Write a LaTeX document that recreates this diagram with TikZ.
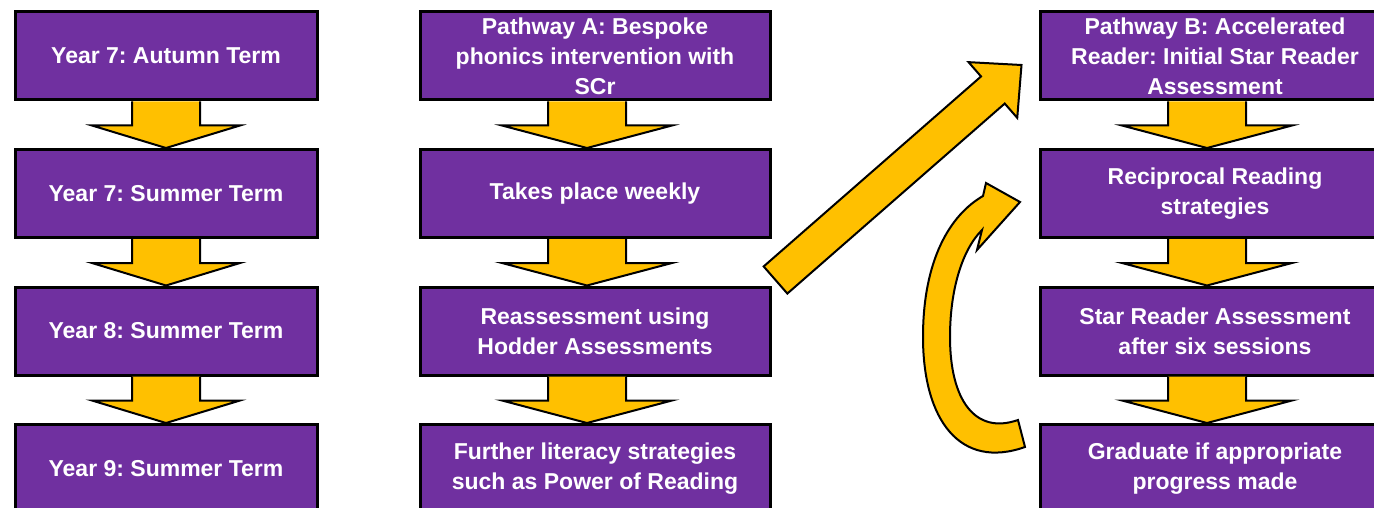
\documentclass[tikz,border=0pt]{standalone}
\usepackage{fontspec}
\setmainfont{Liberation Sans}
\usepackage{tikz}
\usetikzlibrary{positioning,calc}
\definecolor{boxpurple}{HTML}{7030A0}
\definecolor{arrowgold}{HTML}{FFC000}
\frenchspacing

% fat yellow arrow between two boxes: from, to, x shift, half shaft, half head
\newcommand{\blockdown}[5]{%
\draw[goldarrow] ($(#1.south)+(#3-#4,0)$) -- ($(#1.south)+(#3-#4,24)$) -- ($(#1.south)+(#3-#5,24)$) -- ($(#2.north)+(#3,0)$) -- ($(#1.south)+(#3+#5,24)$) -- ($(#1.south)+(#3+#4,24)$) -- ($(#1.south)+(#3+#4,0)$);
}

\begin{document}
\begin{tikzpicture}[x=1pt, y=-1pt,
node distance={137.5pt},
stage/.style={rectangle, draw=black, fill=boxpurple, line width=3pt, text=white, align=center, inner sep=0pt, minimum height=88pt},
yearbox/.style={stage, minimum width=302pt},
pathbox/.style={stage, minimum width=350pt},
goldarrow/.style={draw=black, fill=arrowgold, line width=2pt, line join=miter}]
\tikzstyle{every node}=[font=\bfseries\fontsize{23}{30}\selectfont]
\useasboundingbox (0,0) rectangle (1374,508);

% left column
\node[yearbox] (y1) at (166,56) {Year 7: Autumn Term};
\node[yearbox] (y2) [below of=y1] {Year 7: Summer Term};
\node[yearbox] (y3) [below of=y2] {Year 8: Summer Term};
\node[yearbox] (y4) [below of=y3] {Year 9: Summer Term};

% pathway A
\node[pathbox] (a1) at (595,56) {Pathway A: Bespoke\\phonics intervention with\\SCr};
\node[pathbox] (a2) [below of=a1] {Takes place weekly};
\node[pathbox] (a3) [below of=a2] {Reassessment using\\Hodder Assessments};
\node[pathbox] (a4) [below of=a3] {Further literacy strategies\\such as Power of Reading};

% pathway B
\node[pathbox] (b1) at (1215,56) {Pathway B: Accelerated\\Reader: Initial Star Reader\\Assessment};
\node[pathbox] (b2) [below of=b1] {Reciprocal Reading\\strategies};
\node[pathbox] (b3) [below of=b2] {Star Reader Assessment\\after six sessions};
\node[pathbox] (b4) [below of=b3] {Graduate if appropriate\\progress made};

\blockdown{y1}{y2}{0}{34}{74}
\blockdown{y2}{y3}{0}{34}{74}
\blockdown{y3}{y4}{0}{34}{74}
\blockdown{a1}{a2}{-8}{39}{85}
\blockdown{a2}{a3}{-8}{39}{85}
\blockdown{a3}{a4}{-8}{39}{85}
\blockdown{b1}{b2}{-8}{39}{85}
\blockdown{b2}{b3}{-8}{39}{85}
\blockdown{b3}{b4}{-8}{39}{85}

% jump from pathway A to pathway B
\coordinate (dtail) at ($(a3.north east)+(4,-5.5)$);
\coordinate (dtip) at ($(b1.west)+(-17,9)$);
\coordinate (dhead) at ($(dtip)!38pt!(dtail)$);
\draw[goldarrow] ($(dtail)!18pt!90:(dtip)$) -- ($(dhead)!18pt!-90:(dtail)$) -- ($(dhead)!37pt!-90:(dtail)$) -- (dtip) -- ($(dhead)!37pt!90:(dtail)$) -- ($(dhead)!18pt!90:(dtail)$) -- ($(dtail)!18pt!-90:(dtip)$) -- cycle;

% loop back
\draw[goldarrow] (1025,447) .. controls (960,470) and (923,420) .. (923,337) .. controls (923,260) and (950,215) .. (983,196) -- (986,183) -- (1020,202) -- (977,250) -- (982,230) .. controls (962,250) and (950,290) .. (950,337) .. controls (950,400) and (975,435) .. (1018,420) -- cycle;
\end{tikzpicture}
\end{document}
